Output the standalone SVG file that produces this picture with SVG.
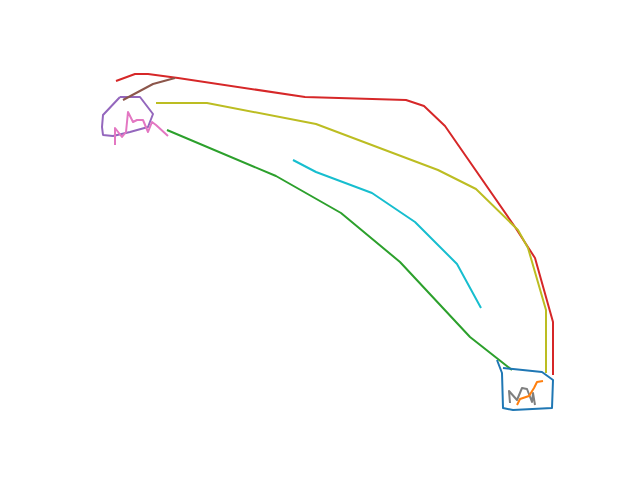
<svg xmlns="http://www.w3.org/2000/svg" width="640" height="480" viewBox="0 0 640 480">
<style>
polyline{fill:none;stroke-width:2;stroke-linejoin:round;stroke-linecap:butt}
</style>
<rect width="640" height="480" fill="#ffffff"/>
<g id="lines">
<polyline stroke="#d62728" points="116,81 135,74 148,74 178,78 305,97 406,100 424,106 445,126 515,227 535,258 553,322 553,375"/>
<polyline stroke="#bcbd22" points="156,103 207,103 316,124 438,170 476,189 518,230 528,248 546,310 546,373"/>
<polyline stroke="#2ca02c" points="167,130 276,176 341,213 400,262 470,337 512,370"/>
<polyline stroke="#17becf" points="293,160 316,172 372,193 415,222 457,264 481,308"/>
<polyline stroke="#1f77b4" points="497,360 502,373 503,408 513,410 552,408 553,380 542,372 513,369 503,368"/>
<polyline stroke="#7f7f7f" points="510,403 509,391 517,400 522,388 527,389 532,402 533,393 535,405"/>
<polyline stroke="#ff7f0e" points="517,405 520,399 529,396 534,388 537,382 543,381"/>
<polyline stroke="#9467bd" points="120,97 140,97 153,114 148,127 130,132 113,136 103,135 102,127 103,115 120,97"/>
<polyline stroke="#8c564b" points="123,100 153,84 175,78"/>
<polyline stroke="#e377c2" points="115,145 115,128 122,137 126,132 128,112 133,122 137,120 143,120 148,132 152,122 156,125 168,136"/>
</g>
</svg>
